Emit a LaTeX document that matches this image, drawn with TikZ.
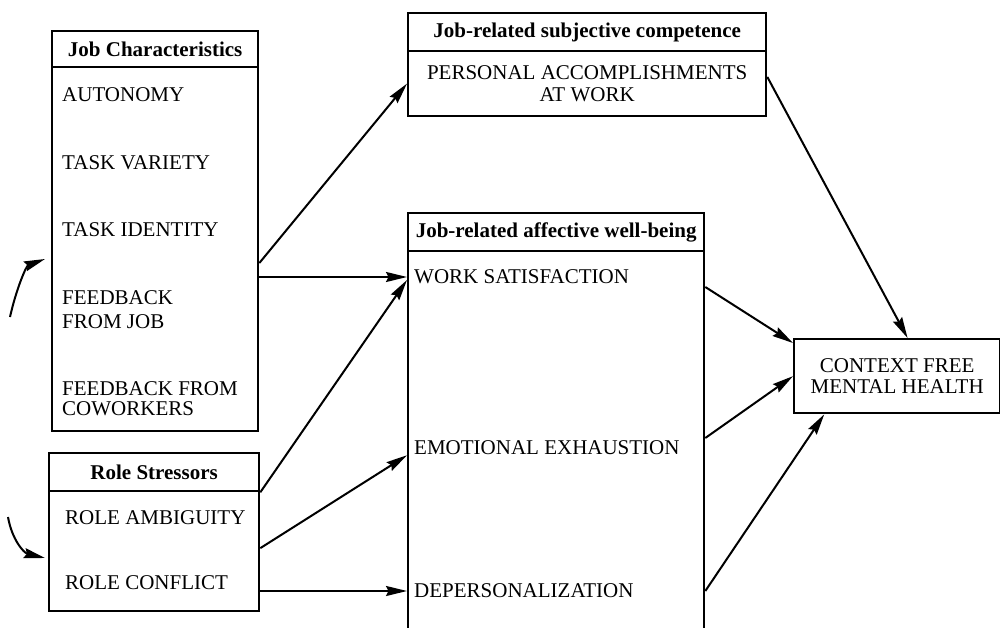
\documentclass[tikz,border=0pt]{standalone}
\usepackage{fontspec}
\setmainfont{Liberation Serif}
\usetikzlibrary{arrows.meta,calc}
\begin{document}
\begin{tikzpicture}[x=1pt,y=-1pt,
  box/.style={draw,line width=2.3pt,rectangle,inner sep=0pt,anchor=north west},
  hdr/.style={box,font=\fontsize{21}{24}\selectfont\bfseries},
  item/.style={anchor=west,inner sep=0pt,align=left,font=\fontsize{21}{22}\selectfont},
  arr/.style={line width=2pt,-{Stealth[length=21pt,width=10pt,inset=2.5pt]}}
]
\useasboundingbox[fill=white] (0,0) rectangle (1000,628);

% Job Characteristics
\node[hdr,minimum width=206pt,minimum height=36pt] (jch) at (51,30) {Job Characteristics};
\node[box,minimum width=206pt,minimum height=364pt] (jcb) at (51,66) {};
\node[item] (au) at (62,95) {AUTONOMY};
\node[item] (tv) at (62,163) {TASK VARIETY};
\node[item] (ti) at (62,230) {TASK IDENTITY};
\node[item,font=\fontsize{21}{24}\selectfont] (fj) at (62,310) {FEEDBACK\\FROM JOB};
\node[item,font=\fontsize{21}{20.5}\selectfont] (fc) at (62,398.5) {FEEDBACK FROM\\COWORKERS};

% Role Stressors
\node[hdr,minimum width=210pt,minimum height=38pt] (rsh) at (48,452) {Role Stressors};
\node[box,minimum width=210pt,minimum height=120pt] (rsb) at (48,490) {};
\node[item] (ra) at (65,518) {ROLE AMBIGUITY};
\node[item] (rc) at (65,583) {ROLE CONFLICT};

% Job-related subjective competence
\node[hdr,minimum width=358pt,minimum height=38pt] (comph) at (407,12) {Job-related subjective competence};
\node[box,minimum width=358pt,minimum height=65pt] (compb) at (407,50) {};
\node[align=center,inner sep=0pt,font=\fontsize{21}{21.7}\selectfont] (pa) at (compb.center) {PERSONAL ACCOMPLISHMENTS\\AT WORK};

% Job-related affective well-being
\node[hdr,minimum width=296pt,minimum height=38pt] (awh) at (407,212) {Job-related affective well-being};
\begin{scope}
\clip (0,0) rectangle (1000,628);
\node[box,minimum width=296pt,minimum height=420pt] (awb) at (407,250) {};
\end{scope}
\node[item] (ws) at (414,277) {WORK SATISFACTION};
\node[item] (ee) at (414,448) {EMOTIONAL EXHAUSTION};
\node[item] (dp) at (414,591) {DEPERSONALIZATION};

% Context free mental health
\node[box,minimum width=206pt,minimum height=74pt,align=center,font=\fontsize{21}{21.7}\selectfont] (cfmh) at (793,338) {CONTEXT FREE\\MENTAL HEALTH};

% Connectors
\draw[arr] ($(jcb.north east)!0.538!(jcb.south east)$) -- (compb.west);
\draw[arr] (jcb.east |- ws) -- (awb.west |- ws);
\draw[arr] (rsh.south east) -- ($(awb.west |- ws)+(0,3)$);
\draw[arr] ($(rsb.east)+(0,-3)$) -- (awb.west |- ee.south);
\draw[arr] (rsb.east |- dp) -- (awb.west |- dp);
\draw[arr] ($(compb.north east)!0.4!(compb.south east)$) -- ($(cfmh.north west)!0.55!(cfmh.north east)$);
\draw[arr] ($(awb.east |- ws)+(0,10)$) -- ($(cfmh.north west)+(0,5)$);
\draw[arr] ($(awb.east |- ee)+(0,-10)$) -- (cfmh.west);
\draw[arr] (awb.east |- dp) -- ($(cfmh.south west)!0.15!(cfmh.south east)$);

% Partial curved arrows at the left edge
\coordinate (c1s) at (10,317);
\coordinate (c1e) at (45,259);
\coordinate (c2s) at (8,517);
\coordinate (c2e) at (45,558);
\draw[arr] (c1s) .. controls (16,290) and (26,266) .. (c1e);
\draw[arr] (c2s) .. controls (12,540) and (24,553) .. (c2e);
\end{tikzpicture}
\end{document}
